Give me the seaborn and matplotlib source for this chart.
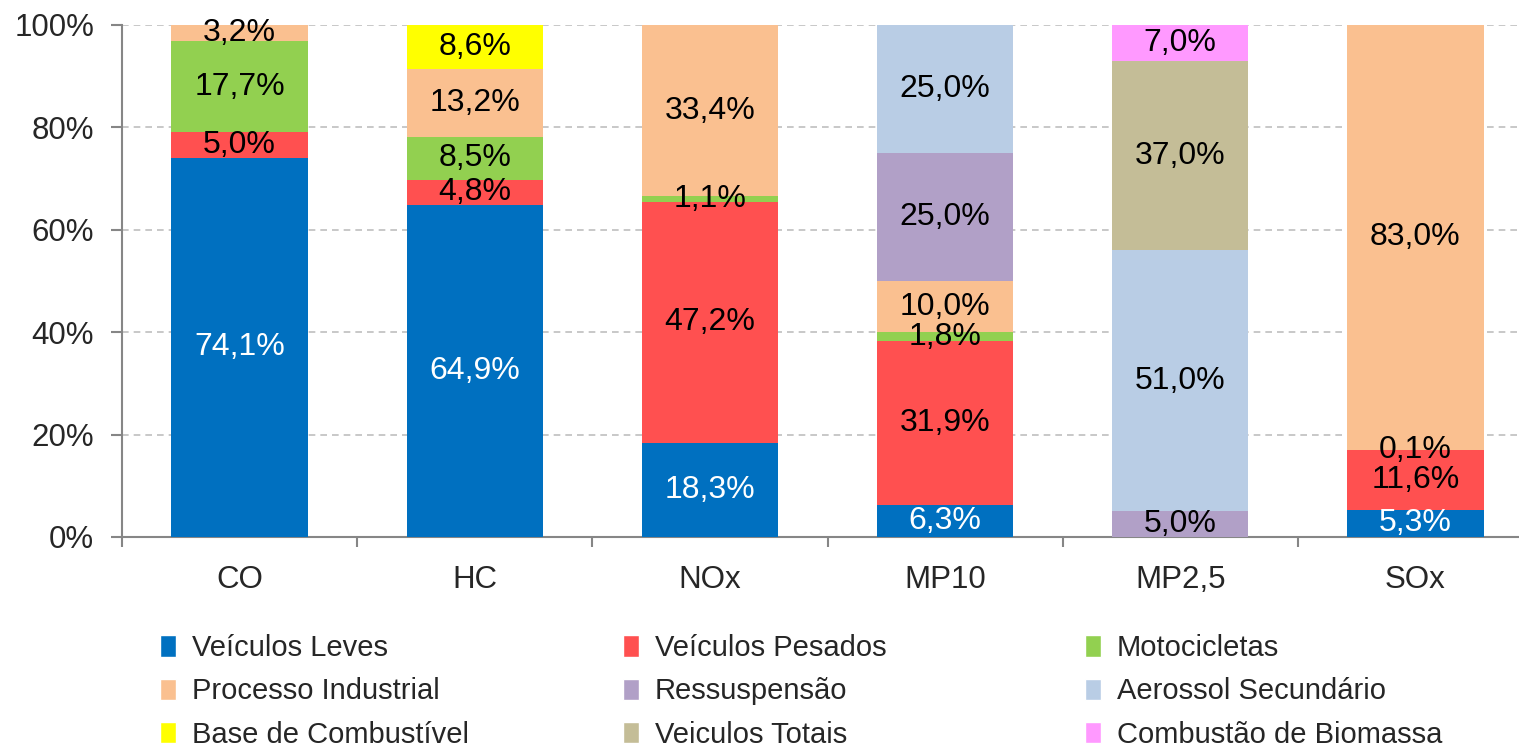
import numpy as np
import seaborn as sns
from matplotlib import pyplot as plt
from matplotlib.patches import Patch

categories = ['CO', 'HC', 'NOx', 'MP10', 'MP2,5', 'SOx']

veiculos_leves = [74.1, 64.9, 18.3, 6.3, 0.0, 5.3]
veiculos_pesados = [5.0, 4.8, 47.2, 31.9, 0.0, 11.6]
motocicletas = [17.7, 8.5, 1.1, 1.8, 0.0, 0.1]
processo_industrial = [3.2, 13.2, 33.4, 10.0, 0.0, 83.0]
ressuspensao = [0.0, 0.0, 0.0, 25.0, 5.0, 0.0]
aerossol_secundario = [0.0, 0.0, 0.0, 25.0, 51.0, 0.0]
base_combustivel = [0.0, 8.6, 0.0, 0.0, 0.0, 0.0]
veiculos_totais = [0.0, 0.0, 0.0, 0.0, 37.0, 0.0]
combustao_biomassa = [0.0, 0.0, 0.0, 0.0, 7.0, 0.0]

series = [
    ('Veículos Leves', veiculos_leves, '#0070C0', 'white'),
    ('Veículos Pesados', veiculos_pesados, '#FF5050', 'black'),
    ('Motocicletas', motocicletas, '#92D050', 'black'),
    ('Processo Industrial', processo_industrial, '#FAC090', 'black'),
    ('Ressuspensão', ressuspensao, '#B1A0C7', 'black'),
    ('Aerossol Secundário', aerossol_secundario, '#B9CDE5', 'black'),
    ('Base de Combustível', base_combustivel, '#FFFF00', 'black'),
    ('Veiculos Totais', veiculos_totais, '#C4BD97', 'black'),
    ('Combustão de Biomassa', combustao_biomassa, '#FF99FF', 'black'),
]

sns.set_style('white')
plt.rcParams['font.family'] = ['Liberation Sans', 'DejaVu Sans']

W, H = 1519, 748
fig = plt.figure(figsize=(W / 100, H / 100), dpi=100)
ax = fig.add_axes([122 / W, 1 - 537 / H, (1533 - 122) / W, (537 - 25) / H])

bottom = np.zeros(len(categories))
for name, vals, color, tcolor in series:
    vals = np.array(vals)
    sns.barplot(x=categories, y=vals, bottom=bottom, color=color, width=0.58,
                saturation=1, linewidth=0, ax=ax, zorder=3)
    for i, v in enumerate(vals):
        if v > 0:
            ax.text(i, bottom[i] + v / 2, f'{v:.1f}%'.replace('.', ','),
                    ha='center', va='center', fontsize=23, color=tcolor, zorder=5)
    bottom += vals

ax.set_xlim(-0.5, 5.5)
ax.set_ylim(0, 100)
ax.set_yticks(np.arange(0, 101, 20))
ax.set_yticklabels([f'{t}%' for t in range(0, 101, 20)], fontsize=22.5)
ax.yaxis.grid(True, linestyle=(0, (4, 3)), color='#BFBFBF', linewidth=1.2, zorder=0)
ax.set_xticks(range(len(categories)))
ax.set_xticklabels(categories, fontsize=22.5)
ax.tick_params(axis='x', which='major', length=0, pad=20)
ax.set_xticks(np.arange(-0.5, 6, 1), minor=True)
ax.tick_params(axis='x', which='minor', bottom=True, length=7, width=1.5,
               color='#868686', direction='out')
ax.tick_params(axis='y', left=True, length=8, width=1.5, color='#868686',
               direction='out', pad=12)

for s in ['top', 'right']:
    ax.spines[s].set_visible(False)
for s in ['left', 'bottom']:
    ax.spines[s].set_color('#868686')
    ax.spines[s].set_linewidth(1.5)
ax.set_ylabel('')

# one legend per column so the columns sit at fixed places, as in the source
handles = [Patch(facecolor=c, label=n) for n, _, c, _ in series]
col_x = [160, 623, 1085]
for k, x in enumerate(col_x):
    col = handles[k::3]
    fig.legend(col, [h.get_label() for h in col], ncol=1, loc='upper left',
               bbox_to_anchor=(x / W, 1 - 634 / H), frameon=False, fontsize=21,
               handlelength=0.55, handleheight=0.75, handletextpad=0.55,
               labelspacing=0.53, borderpad=0, borderaxespad=0)

fig.savefig('out.png', dpi=100)
